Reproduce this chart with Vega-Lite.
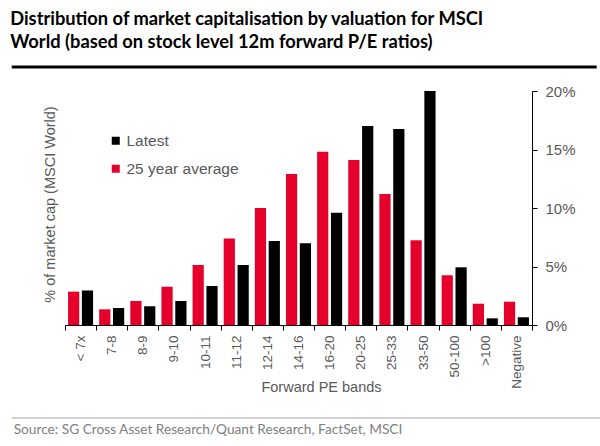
{
  "$schema": "https://vega.github.io/schema/vega-lite/v6.json",
  "width": 467,
  "height": 234,
  "padding": {"left": 10, "top": 10, "right": 0, "bottom": 0},
  "title": {
    "text": ["Distribution of market capitalisation by valuation for MSCI", "World (based on stock level 12m forward P/E ratios)"],
    "anchor": "start",
    "font": "Lato",
    "fontSize": 18.3,
    "fontWeight": "bold",
    "color": "#000000",
    "lineHeight": 23,
    "offset": 13
  },
  "config": {"view": {"stroke": null}},
  "datasets": {
    "bars": [
      {"band": "< 7x", "series": "25 year average", "value": 2.85},
      {"band": "< 7x", "series": "Latest", "value": 2.95},
      {"band": "7-8", "series": "25 year average", "value": 1.34},
      {"band": "7-8", "series": "Latest", "value": 1.45},
      {"band": "8-9", "series": "25 year average", "value": 2.05},
      {"band": "8-9", "series": "Latest", "value": 1.6},
      {"band": "9-10", "series": "25 year average", "value": 3.27},
      {"band": "9-10", "series": "Latest", "value": 2.05},
      {"band": "10-11", "series": "25 year average", "value": 5.13},
      {"band": "10-11", "series": "Latest", "value": 3.33},
      {"band": "11-12", "series": "25 year average", "value": 7.4},
      {"band": "11-12", "series": "Latest", "value": 5.13},
      {"band": "12-14", "series": "25 year average", "value": 10.0},
      {"band": "12-14", "series": "Latest", "value": 7.18},
      {"band": "14-16", "series": "25 year average", "value": 12.9},
      {"band": "14-16", "series": "Latest", "value": 6.98},
      {"band": "16-20", "series": "25 year average", "value": 14.8},
      {"band": "16-20", "series": "Latest", "value": 9.6},
      {"band": "20-25", "series": "25 year average", "value": 14.1},
      {"band": "20-25", "series": "Latest", "value": 17.0},
      {"band": "25-33", "series": "25 year average", "value": 11.2},
      {"band": "25-33", "series": "Latest", "value": 16.75},
      {"band": "33-50", "series": "25 year average", "value": 7.24},
      {"band": "33-50", "series": "Latest", "value": 20.0},
      {"band": "50-100", "series": "25 year average", "value": 4.25},
      {"band": "50-100", "series": "Latest", "value": 4.93},
      {"band": ">100", "series": "25 year average", "value": 1.82},
      {"band": ">100", "series": "Latest", "value": 0.57},
      {"band": "Negative", "series": "25 year average", "value": 1.99},
      {"band": "Negative", "series": "Latest", "value": 0.66}
    ]
  },
  "layer": [
    {
      "data": {"name": "bars"},
      "mark": {"type": "bar"},
      "encoding": {
        "x": {
          "field": "band",
          "type": "nominal",
          "sort": ["< 7x", "7-8", "8-9", "9-10", "10-11", "11-12", "12-14", "14-16", "16-20", "20-25", "25-33", "33-50", "50-100", ">100", "Negative"],
          "scale": {"paddingInner": 0, "paddingOuter": 0},
          "axis": {
            "title": "Forward PE bands",
            "labelAngle": -90,
            "tickBand": "extent",
            "labelFont": "Liberation Sans",
            "labelFontSize": 13.5,
            "labelColor": "#595959",
            "labelPadding": 5,
            "titleFont": "Liberation Sans",
            "titleFontSize": 14.5,
            "titleFontWeight": "normal",
            "titleColor": "#595959",
            "titleX": 256,
            "titleY": 62,
            "titleBaseline": "middle",
            "titleAlign": "center",
            "domainColor": "#000000",
            "tickColor": "#000000",
            "tickSize": 5
          }
        },
        "xOffset": {
          "field": "series",
          "type": "nominal",
          "sort": ["25 year average", "Latest"],
          "scale": {"paddingInner": 0.19, "paddingOuter": 0.22}
        },
        "y": {
          "field": "value",
          "type": "quantitative",
          "scale": {"domain": [0, 20], "nice": false},
          "axis": {
            "orient": "right",
            "values": [0, 5, 10, 15, 20],
            "labelExpr": "datum.value + '%'",
            "grid": false,
            "title": "% of market cap (MSCI World)",
            "titleAngle": 270,
            "titleX": -481.5,
            "titleY": 113,
            "titleAlign": "center",
            "titleBaseline": "middle",
            "titleFont": "Liberation Sans",
            "titleFontSize": 14.5,
            "titleFontWeight": "normal",
            "titleColor": "#595959",
            "labelFont": "Liberation Sans",
            "labelFontSize": 15,
            "labelColor": "#595959",
            "labelPadding": 8,
            "domainColor": "#000000",
            "tickColor": "#000000",
            "tickSize": 5
          }
        },
        "color": {
          "field": "series",
          "type": "nominal",
          "scale": {"domain": ["Latest", "25 year average"], "range": ["#000000", "#e4002b"]},
          "legend": {
            "title": null,
            "orient": "none",
            "legendX": 43,
            "legendY": 42,
            "symbolType": "square",
            "symbolSize": 64,
            "symbolStrokeWidth": 0,
            "labelFont": "Liberation Sans",
            "labelFontSize": 15.5,
            "labelColor": "#595959",
            "labelOffset": 3,
            "rowPadding": 11
          }
        }
      }
    },
    {
      "data": {"values": [{}]},
      "mark": {"type": "rule", "color": "#000000", "strokeWidth": 3},
      "encoding": {
        "x": {"datum": -0.1141, "type": "quantitative", "scale": {"domain": [0, 1], "nice": false, "zero": false}, "axis": null},
        "x2": {"datum": 1.1385},
        "y": {"datum": 22.05, "type": "quantitative"}
      }
    },
    {
      "data": {"values": [{}]},
      "mark": {"type": "rule", "color": "#a6a6a6", "strokeWidth": 1},
      "encoding": {
        "x": {"datum": -0.1141, "type": "quantitative", "scale": {"domain": [0, 1], "nice": false, "zero": false}, "axis": null},
        "x2": {"datum": 1.1492},
        "y": {"datum": -7.95, "type": "quantitative"}
      }
    },
    {
      "data": {"values": [{"source": "Source: SG Cross Asset Research/Quant Research, FactSet, MSCI"}]},
      "mark": {"type": "text", "align": "left", "baseline": "middle", "font": "Lato", "fontSize": 13.7, "color": "#808080"},
      "encoding": {
        "text": {"field": "source", "type": "nominal"},
        "x": {"datum": -0.1099, "type": "quantitative", "scale": {"domain": [0, 1], "nice": false, "zero": false}, "axis": null},
        "y": {"datum": -8.97, "type": "quantitative"}
      }
    }
  ],
  "resolve": {"scale": {"x": "independent"}}
}
